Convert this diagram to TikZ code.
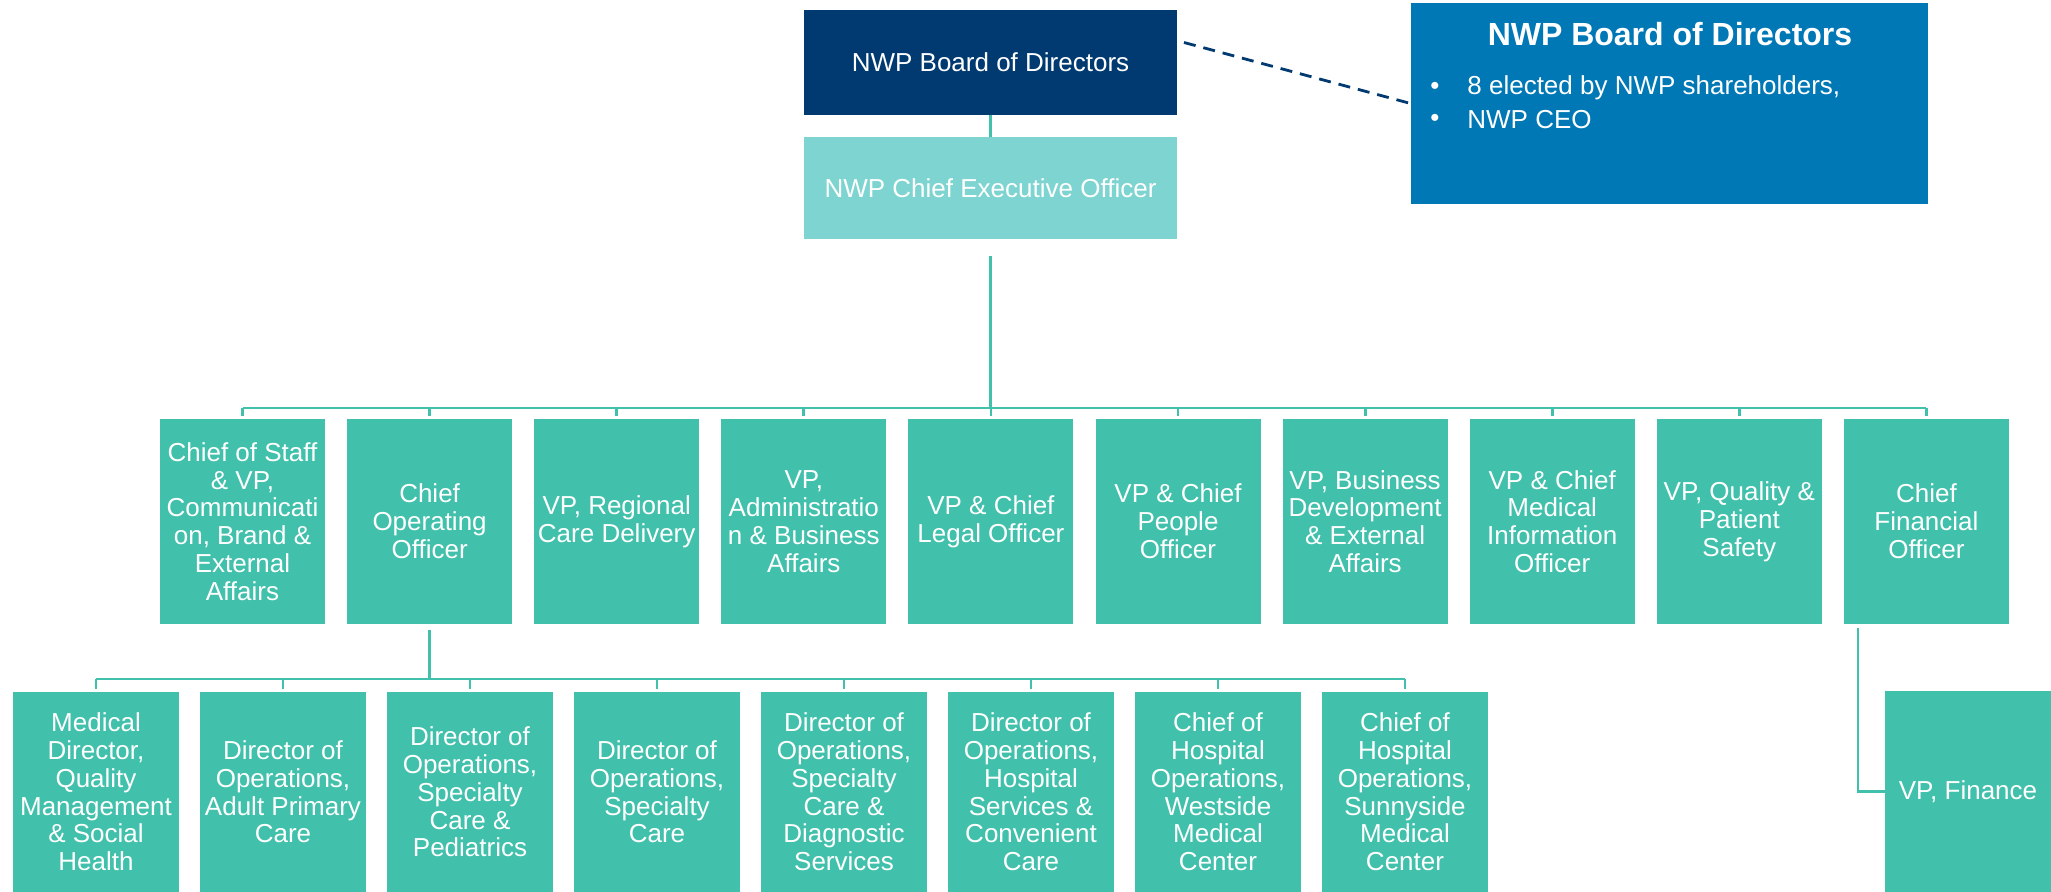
\documentclass[tikz,border=0pt]{standalone}
\usepackage{fontspec}
\setmainfont{Liberation Sans}
\usetikzlibrary{calc}
\definecolor{navy}{RGB}{0,58,112}
\definecolor{ltteal}{RGB}{125,212,208}
\definecolor{teal}{RGB}{65,192,171}
\definecolor{bblue}{RGB}{0,120,181}
\tikzset{
  x=0.5pt, y=-0.5pt,
  base/.style={rectangle, inner sep=0pt, outer sep=0pt, text=white, align=center, font=\fontsize{13}{13.9}\selectfont},
  topbox/.style={base, fill=navy, minimum width=186.5pt, minimum height=52.5pt},
  ceobox/.style={base, fill=ltteal, minimum width=186.5pt, minimum height=51pt},
  rowone/.style={base, fill=teal, minimum width=82.5pt, minimum height=102.5pt},
  rowtwo/.style={base, fill=teal, minimum width=83pt, minimum height=100pt},
  infobox/.style={rectangle, inner sep=0pt, fill=bblue, minimum width=258.5pt, minimum height=100.5pt},
  conn/.style={draw=teal, line width=1.4pt},
  dashconn/.style={draw=navy, line width=1.4pt, dash pattern=on 6pt off 4pt},
  infotext/.style={text=white, inner sep=0pt, font=\fontsize{13}{15}\selectfont},
}
\begin{document}
\begin{tikzpicture}
\useasboundingbox (0,0) rectangle (2051,892);
\fill[white] (0,0) rectangle (2051,892);

% top
\node[topbox] (board) at (990.5,62.5) {NWP Board of Directors};
\node[ceobox] (ceo) at (990.5,188) {NWP Chief Executive Officer};
\node[infobox] (info) at (1669.5,103.5) {};
\node[text=white, inner sep=0pt, font=\fontsize{16}{18}\selectfont\bfseries] (infotitle) at (1670,34) {NWP Board of Directors};
\node[infotext] (b1) at (1435,88) {•};
\node[infotext, anchor=west] (t1) at (1467,88) {8 elected by NWP shareholders,};
\node[infotext] (b2) at (1435,120) {•};
\node[infotext, anchor=west] (t2) at (1467,120) {NWP CEO};

\draw[conn] (board.south) -- (ceo.north);
\draw[dashconn] ($(board.east)+(7,-20)$) -- (info.west);

% first row
\node[rowone] (r1) at (242.5,521.5) {Chief of Staff\\ \& VP,\\ Communicati\\ on, Brand \&\\ External\\ Affairs};
\node[rowone] (r2) at (429.6,521.5) {Chief\\ Operating\\ Officer};
\node[rowone] (r3) at (616.7,521.5) {VP, Regional\\ Care Delivery};
\node[rowone] (r4) at (803.8,521.5) {VP,\\ Administratio\\ n \& Business\\ Affairs};
\node[rowone] (r5) at (990.9,521.5) {VP \& Chief\\ Legal Officer};
\node[rowone] (r6) at (1178.0,521.5) {VP \& Chief\\ People\\ Officer};
\node[rowone] (r7) at (1365.1,521.5) {VP, Business\\ Development\\ \& External\\ Affairs};
\node[rowone] (r8) at (1552.2,521.5) {VP \& Chief\\ Medical\\ Information\\ Officer};
\node[rowone] (r9) at (1739.3,521.5) {VP, Quality \&\\ Patient\\ Safety};
\node[rowone] (r10) at (1926.4,521.5) {Chief\\ Financial\\ Officer};

\coordinate (j1) at (990.5,408);
\coordinate (bar1L) at (242.5,408);
\coordinate (bar1R) at (1926.4,408);
\draw[conn] ($(ceo.south)+(0,17)$) -- (j1);
\draw[conn] (bar1L) -- (bar1R);
\foreach \i in {1,...,10}{
  \draw[conn] (r\i.north |- bar1L) -- ($(r\i.north)+(0,-3)$);
}

% second row
\node[rowtwo] (s1) at (96,792) {Medical\\ Director,\\ Quality\\ Management\\ \& Social\\ Health};
\node[rowtwo] (s2) at (283,792) {Director of\\ Operations,\\ Adult Primary\\ Care};
\node[rowtwo] (s3) at (470,792) {Director of\\ Operations,\\ Specialty\\ Care \&\\ Pediatrics};
\node[rowtwo] (s4) at (657,792) {Director of\\ Operations,\\ Specialty\\ Care};
\node[rowtwo] (s5) at (844,792) {Director of\\ Operations,\\ Specialty\\ Care \&\\ Diagnostic\\ Services};
\node[rowtwo] (s6) at (1031,792) {Director of\\ Operations,\\ Hospital\\ Services \&\\ Convenient\\ Care};
\node[rowtwo] (s7) at (1218,792) {Chief of\\ Hospital\\ Operations,\\ Westside\\ Medical\\ Center};
\node[rowtwo] (s8) at (1405,792) {Chief of\\ Hospital\\ Operations,\\ Sunnyside\\ Medical\\ Center};

\coordinate (j2) at (429.6,679);
\coordinate (bar2L) at (96,679);
\coordinate (bar2R) at (1405,679);
\draw[conn] ($(r2.south)+(0,6)$) -- (j2);
\draw[conn] (bar2L) -- (bar2R);
\foreach \i in {1,...,8}{
  \draw[conn] (s\i.north |- bar2L) -- ($(s\i.north)+(0,-3)$);
}

% finance
\node[rowtwo, minimum height=100.5pt] (vpf) at (1968,791.5) {VP, Finance};
\draw[conn] ($(r10.south west)+(14,4)$) |- (vpf.west);
\end{tikzpicture}
\end{document}
